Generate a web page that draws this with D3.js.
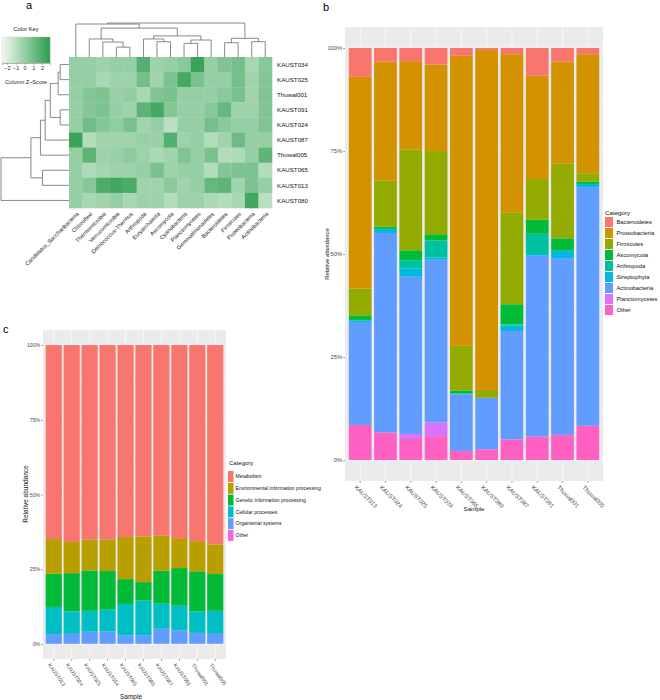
<!DOCTYPE html>
<html><head><meta charset="utf-8">
<script src="https://cdn.jsdelivr.net/npm/d3@7"></script>
<style>
body{margin:0;background:#fff}
svg{display:block}
text{font-family:"Liberation Sans",Arial,Helvetica,sans-serif}
</style>
</head><body>
<svg id="chart" width="660" height="700"></svg>
<script>
// ================= DATA =================
// Panel a: heatmap
const heatRows = ["KAUST034","KAUST025","Thuwal001","KAUST091","KAUST024","KAUST087","Thuwal005","KAUST065","KAUST013","KAUST080"];
const heatCols = ["Candidatus_Saccharibacteria","Chloroflexi","Thermomicrobia","Verrucomicrobia","Deinococcus-Thermus","Arthropoda","Euryarchaeota","Ascomycota","Cyanobacteria","Planctomycetes","Gemmatimonadetes","Bacteroidetes","Firmicutes","Proteobacteria","Actinobacteria"];
const heatZ = [
  [ 0.0, 0.0,-0.2, 0.0, 0.0, 1.8,-0.2, 0.0, 0.3, 2.5, 0.0, 0.6, 0.9,-0.5, 0.4],
  [ 0.0, 0.0,-0.5,-0.2,-0.2, 0.9,-0.3, 0.7, 2.2, 0.8, 0.0, 0.0, 0.9,-0.3, 0.5],
  [ 0.0, 0.5, 0.7,-0.1, 0.1,-0.5, 0.6, 0.8, 0.0, 0.0, 0.0, 0.3, 0.8,-0.3, 0.6],
  [ 0.0, 0.5, 0.7, 0.0,-0.2, 1.6, 2.2, 0.5, 0.0, 0.0, 0.4, 1.3,-0.2,-0.2, 0.6],
  [ 0.0, 1.0, 0.5, 0.1, 0.8,-0.3, 0.0,-1.0, 0.0, 0.0, 0.9, 0.3, 0.0, 0.0, 0.6],
  [ 2.5,-0.8,-0.3,-0.3,-0.3,-0.1,-0.1, 1.8,-0.2, 0.0,-0.8,-0.3, 1.1, 0.0, 0.0],
  [ 0.0, 1.6,-0.2,-0.1, 0.2,-0.2,-0.6,-0.3, 0.6, 0.0, 0.8,-0.8,-0.7, 0.0, 1.5],
  [ 0.0,-0.7,-0.4,-0.2,-0.2, 0.0, 0.8,-0.2, 0.0, 0.0,-0.8, 0.5, 0.7, 0.7,-0.8],
  [ 0.0, 0.4, 2.0, 2.3, 2.1,-0.3,-0.3, 0.3,-0.3, 0.0, 1.3, 1.5,-0.3, 0.7, 0.0],
  [ 0.0,-0.5,-0.3, 0.0,-0.5,-0.2,-0.2,-0.8,-0.2,-0.2,-0.6,-0.8,-0.5, 2.3,-1.0]
];
const keyTicks = [-2,-1,0,1,2];
const keyDomain = [-2.57, 2.91];
// row dendrogram (merge heights, 0..1)
const rowTree = {h:1.0, c:[
  {h:0.56, c:[
    {h:0.42, c:[
      {h:0.35, c:[
        {h:0.275, c:[
          {h:0.16, c:[{h:0.13, c:["KAUST034","KAUST025"]}, "Thuwal001"]},
          {h:0.13, c:["KAUST091","KAUST024"]}
        ]},
        "KAUST087"]},
      "Thuwal005"]},
    {h:0.39, c:["KAUST065","KAUST013"]}
  ]},
  "KAUST080"]};
// column dendrogram (merge heights, 0..1)
const colTree = {h:1.0, c:[
  {h:0.97, c:[
    "Candidatus_Saccharibacteria",
    {h:0.85, c:[
      {h:0.53, c:["Chloroflexi", {h:0.44, c:["Thermomicrobia", {h:0.29, c:["Verrucomicrobia","Deinococcus-Thermus"]}]}]},
      {h:0.62, c:[
        {h:0.53, c:["Arthropoda", {h:0.45, c:["Euryarchaeota","Ascomycota"]}]},
        {h:0.5, c:[{h:0.4, c:["Cyanobacteria","Planctomycetes"]}, "Gemmatimonadetes"]}
      ]}
    ]}
  ]},
  {h:0.55, c:[
    {h:0.42, c:["Bacteroidetes","Firmicutes"]},
    {h:0.45, c:["Proteobacteria","Actinobacteria"]}
  ]}
]};

// Panel b: taxa composition
const bSamples = ["KAUST013","KAUST024","KAUST025","KAUST034","KAUST065","KAUST080","KAUST087","KAUST091","Thuwal001","Thuwal005"];
const bCategories = ["Bacteroidetes","Proteobacteria","Firmicutes","Ascomycota","Arthropoda","Streptophyta","Actinobacteria","Planctomycetes","Other"];
const bColors = ["#F8766D","#D39200","#93AA00","#00BA38","#00C19F","#00B9E3","#619CFF","#DB72FB","#FF61C3"];
const bBacteroidetes  = [7.0, 3.3, 3.2, 4.0, 1.9, 0.5, 1.5, 6.7, 3.3, 1.5];
const bProteobacteria = [51.4,28.9,21.4,21.0,70.4,82.5,38.5,25.1,24.7,28.9];
const bFirmicutes     = [6.5,11.2,24.5,20.2,10.9, 1.9,22.2, 9.9,18.2, 2.0];
const bAscomycota     = [1.1, 0.5, 2.4, 1.5, 0.6, 0.0, 4.9, 3.4, 3.0, 0.6];
const bArthropoda     = [0.2, 0.0, 2.0, 4.2, 0.0, 0.0, 0.3, 4.9, 0.0, 0.0];
const bStreptophyta   = [0.3, 1.0, 2.0, 0.5, 0.3, 0.0, 1.3, 0.4, 1.8, 0.8];
const bActinobacteria = [25.0,48.4,38.2,39.5,13.7,12.5,26.3,43.9,42.9,57.9];
const bPlanctomycetes = [0.0, 0.0, 1.2, 3.3, 0.0, 0.0, 0.0, 0.0, 0.0, 0.0];
const bOther          = [8.5, 6.7, 5.1, 5.8, 2.2, 2.6, 5.0, 5.7, 6.1, 8.3];

// Panel c: functional composition
const cSamples = ["KAUST013","KAUST024","KAUST025","KAUST034","KAUST065","KAUST080","KAUST087","KAUST091","Thuwal001","Thuwal005"];
const cCategories = ["Metabolism","Environmental information processing","Genetic information processing","Cellular processes","Organismal systems","Other"];
const cColors = ["#F8766D","#B79F00","#00BA38","#00BFC4","#619CFF","#F564E3"];
const cMetabolism    = [64.9,65.9,65.1,65.1,64.2,64.0,63.8,64.6,65.6,66.7];
const cEnvironmental = [11.6,10.4,10.3,10.5,14.1,15.3,11.7,10.0,10.1, 9.9];
const cGenetic       = [11.1,12.8,13.5,12.9, 8.3, 6.1,11.0,12.6,13.4,12.3];
const cCellular      = [ 9.1, 7.5, 7.0, 7.3,10.5,11.8, 8.4, 8.2, 7.2, 7.7];
const cOrganismal    = [ 3.2, 3.3, 4.0, 4.1, 2.8, 2.7, 5.0, 4.5, 3.6, 3.3];
const cOther         = [ 0.1, 0.1, 0.1, 0.1, 0.1, 0.1, 0.1, 0.1, 0.1, 0.1];
const pctTicks = [0, 0.25, 0.5, 0.75, 1];

// ================= DRAW =================
const svg = d3.select("#chart");
const FONT_GRAY = "#4D4D4D";

// ---------- Panel letters ----------
svg.append("text").attr("x",26).attr("y",9).attr("font-size",11).text("a");
svg.append("text").attr("x",323).attr("y",11).attr("font-size",11).text("b");
svg.append("text").attr("x",3).attr("y",333).attr("font-size",11).text("c");

// ---------- Panel a ----------
const gA = svg.append("g");
const hx = d3.scaleBand().domain(heatCols).range([69,272]);
const hy = d3.scaleBand().domain(heatRows).range([57,208]);
const heatColor = d3.scaleLinear().domain(keyDomain).range(["#f3faf1","#2c9d4e"]).interpolate(d3.interpolateRgb);

heatRows.forEach((r,i)=>{
  heatCols.forEach((c,j)=>{
    gA.append("rect").attr("x",hx(c)).attr("y",hy(r))
      .attr("width",hx.bandwidth()+0.3).attr("height",hy.bandwidth()+0.3)
      .attr("fill",heatColor(heatZ[i][j]));
  });
});
gA.selectAll(".rl").data(heatRows).join("text")
  .attr("x",277).attr("y",d=>hy(d)+hy.bandwidth()/2).attr("dy","0.35em")
  .attr("font-size",6.2).attr("fill","#111").text(d=>d);
gA.selectAll(".cl").data(heatCols).join("text")
  .attr("transform",d=>`translate(${hx(d)+hx.bandwidth()/2+2},213) rotate(-45)`)
  .attr("text-anchor","end").attr("dy","0.35em")
  .attr("font-size",5.6).attr("fill","#111").text(d=>d);

function layout(node, leafPos){
  if (typeof node === "string") return {pos: leafPos(node), h: 0, leaf:true};
  const kids = node.c.map(k=>layout(k, leafPos));
  return {pos: (kids[0].pos + kids[1].pos)/2, h: node.h, kids};
}
function segments(n, out){
  if (!n.kids) return out;
  n.kids.forEach(k=>{ out.push([k.pos,k.h,k.pos,n.h]); segments(k,out); });
  out.push([n.kids[0].pos,n.h,n.kids[1].pos,n.h]);
  return out;
}
const rowH = d3.scaleLinear().domain([0,1]).range([69,1]);
const rowLay = layout(rowTree, d=>hy(d)+hy.bandwidth()/2);
gA.selectAll(".rd").data(segments(rowLay,[])).join("line")
  .attr("x1",s=>rowH(s[1])).attr("y1",s=>s[0]).attr("x2",s=>rowH(s[3])).attr("y2",s=>s[2])
  .attr("stroke","#6b6b6b").attr("stroke-width",0.8);
const colH = d3.scaleLinear().domain([0,1]).range([57,23]);
const colLay = layout(colTree, d=>hx(d)+hx.bandwidth()/2);
gA.selectAll(".cd").data(segments(colLay,[])).join("line")
  .attr("x1",s=>s[0]).attr("y1",s=>colH(s[1])).attr("x2",s=>s[2]).attr("y2",s=>colH(s[3]))
  .attr("stroke","#6b6b6b").attr("stroke-width",0.8);

// color key
const keyX = d3.scaleLinear().domain(keyDomain).range([2,50]);
const keySteps = d3.range(0,48);
gA.selectAll(".kr").data(keySteps).join("rect")
  .attr("x",i=>keyX.range()[0]+i).attr("y",37).attr("width",1.2).attr("height",26)
  .attr("fill",i=>heatColor(keyX.invert(keyX.range()[0]+i+0.5)));
gA.append("rect").attr("x",2).attr("y",37).attr("width",48).attr("height",26)
  .attr("fill","none").attr("stroke","#bbb").attr("stroke-width",0.3);
const keyAxis = gA.append("g").attr("transform","translate(0,63)")
  .call(d3.axisBottom(keyX).tickValues(keyTicks).tickSize(2).tickPadding(1).tickFormat(d=>d<0?"\u2212"+Math.abs(d):d));
keyAxis.select(".domain").attr("stroke","#555").attr("stroke-width",0.4);
keyAxis.selectAll("line").attr("stroke","#555").attr("stroke-width",0.4);
keyAxis.selectAll("text").attr("font-size",5.5).attr("fill","#222").attr("font-family","Liberation Sans, Arial, sans-serif");
gA.append("text").attr("x",26).attr("y",31).attr("text-anchor","middle").attr("font-size",5.8).attr("fill","#222").text("Color Key");
gA.append("text").attr("x",26).attr("y",84).attr("text-anchor","middle").attr("font-size",5.6).attr("fill","#222").text("Column Z\u2013Score");

// ---------- stacked bar helper ----------
function stackedPanel(opts){
  const {g, samples, cats, colors, series, x0, x1, yTop, yBot, y0, y1, fontSize, labelRotate} = opts;
  const x = d3.scaleBand().domain(samples).range([x0,x1]).paddingInner(0.1).paddingOuter(0.15);
  const y = d3.scaleLinear().domain([0,1]).range([y0,y1]);
  g.append("rect").attr("x",x0).attr("y",yTop).attr("width",x1-x0).attr("height",yBot-yTop).attr("fill","#EBEBEB");
  g.selectAll(".gmin").data([0.125,0.375,0.625,0.875]).join("line")
    .attr("x1",x0).attr("x2",x1).attr("y1",d=>y(d)).attr("y2",d=>y(d)).attr("stroke","#fff").attr("stroke-width",0.3);
  g.selectAll(".gmaj").data(pctTicks).join("line")
    .attr("x1",x0).attr("x2",x1).attr("y1",d=>y(d)).attr("y2",d=>y(d)).attr("stroke","#fff").attr("stroke-width",0.6);
  g.selectAll(".gv").data(samples).join("line")
    .attr("x1",d=>x(d)+x.bandwidth()/2).attr("x2",d=>x(d)+x.bandwidth()/2).attr("y1",yTop).attr("y2",yBot)
    .attr("stroke","#fff").attr("stroke-width",0.6);
  const rows = samples.map((s,i)=>{ const o={sample:s}; cats.forEach((c,k)=>o[c]=series[k][i]); return o; });
  const order = cats.slice().reverse();
  const stack = d3.stack().keys(order).offset(d3.stackOffsetExpand)(rows);
  const color = d3.scaleOrdinal().domain(cats).range(colors);
  g.selectAll(".layer").data(stack).join("g").attr("fill",d=>color(d.key))
    .selectAll("rect").data(d=>d).join("rect")
      .attr("x",d=>x(d.data.sample)).attr("width",x.bandwidth())
      .attr("y",d=>y(d[1])).attr("height",d=>Math.max(0,y(d[0])-y(d[1])));
  const ya = g.append("g").attr("transform",`translate(${x0},0)`)
    .call(d3.axisLeft(y).tickValues(pctTicks).tickFormat(d3.format(".0%")).tickSize(1.8).tickPadding(1));
  ya.select(".domain").remove();
  ya.selectAll("line").attr("stroke","#333").attr("stroke-width",0.5);
  ya.selectAll("text").attr("font-size",fontSize).attr("fill",FONT_GRAY).attr("font-family","Liberation Sans, Arial, sans-serif");
  const xa = g.append("g").attr("transform",`translate(0,${yBot})`)
    .call(d3.axisBottom(x).tickSize(1.8));
  xa.select(".domain").remove();
  xa.selectAll("line").attr("stroke","#333").attr("stroke-width",0.5);
  xa.selectAll("text").attr("font-size",fontSize).attr("fill",FONT_GRAY).attr("font-family","Liberation Sans, Arial, sans-serif")
    .attr("x",0).attr("y",0).attr("dy","0.7em")
    .attr("transform",`translate(-3,4) rotate(${labelRotate})`).style("text-anchor","start");
  return {x,y};
}

// ---------- Panel b ----------
const gB = svg.append("g");
stackedPanel({g:gB, samples:bSamples, cats:bCategories, colors:bColors,
  series:[bBacteroidetes,bProteobacteria,bFirmicutes,bAscomycota,bArthropoda,bStreptophyta,bActinobacteria,bPlanctomycetes,bOther],
  x0:345, x1:603, yTop:27, yBot:481, y0:460, y1:48, fontSize:5.8, labelRotate:45});
gB.append("text").attr("transform","translate(329,254) rotate(-90)").attr("text-anchor","middle")
  .attr("font-size",5.8).attr("fill","#111").text("Relative abundance");
gB.append("text").attr("x",474).attr("y",511).attr("text-anchor","middle").attr("font-size",6.2).attr("fill","#111").text("Sample");
gB.append("text").attr("x",605).attr("y",215).attr("font-size",6.2).attr("fill","#111").text("Category");
const lgB = gB.selectAll(".lgb").data(bCategories).join("g")
  .attr("transform",(d,i)=>`translate(605,${217+i*11})`);
lgB.append("rect").attr("width",8).attr("height",10).attr("fill",(d,i)=>bColors[i]);
lgB.append("text").attr("x",11.5).attr("y",5).attr("dy","0.35em").attr("font-size",5.8).attr("fill","#111").text(d=>d);

// ---------- Panel c ----------
const gC = svg.append("g");
stackedPanel({g:gC, samples:cSamples, cats:cCategories, colors:cColors,
  series:[cMetabolism,cEnvironmental,cGenetic,cCellular,cOrganismal,cOther],
  x0:43, x1:226, yTop:330, yBot:659, y0:644, y1:345, fontSize:5.2, labelRotate:55});
gC.append("text").attr("transform","translate(28,494) rotate(-90)").attr("text-anchor","middle")
  .attr("font-size",6.5).attr("fill","#111").text("Relative abundance");
gC.append("text").attr("x",131).attr("y",699).attr("text-anchor","middle").attr("font-size",6.5).attr("fill","#111").text("Sample");
gC.append("text").attr("x",229).attr("y",465).attr("font-size",6).attr("fill","#111").text("Category");
const lgC = gC.selectAll(".lgc").data(cCategories).join("g")
  .attr("transform",(d,i)=>`translate(228,${471+i*11.8})`);
lgC.append("rect").attr("width",5.5).attr("height",11).attr("fill",(d,i)=>cColors[i]);
lgC.append("text").attr("x",7.5).attr("y",5.5).attr("dy","0.35em").attr("font-size",5.1).attr("fill","#111").text(d=>d);
</script>
</body></html>
